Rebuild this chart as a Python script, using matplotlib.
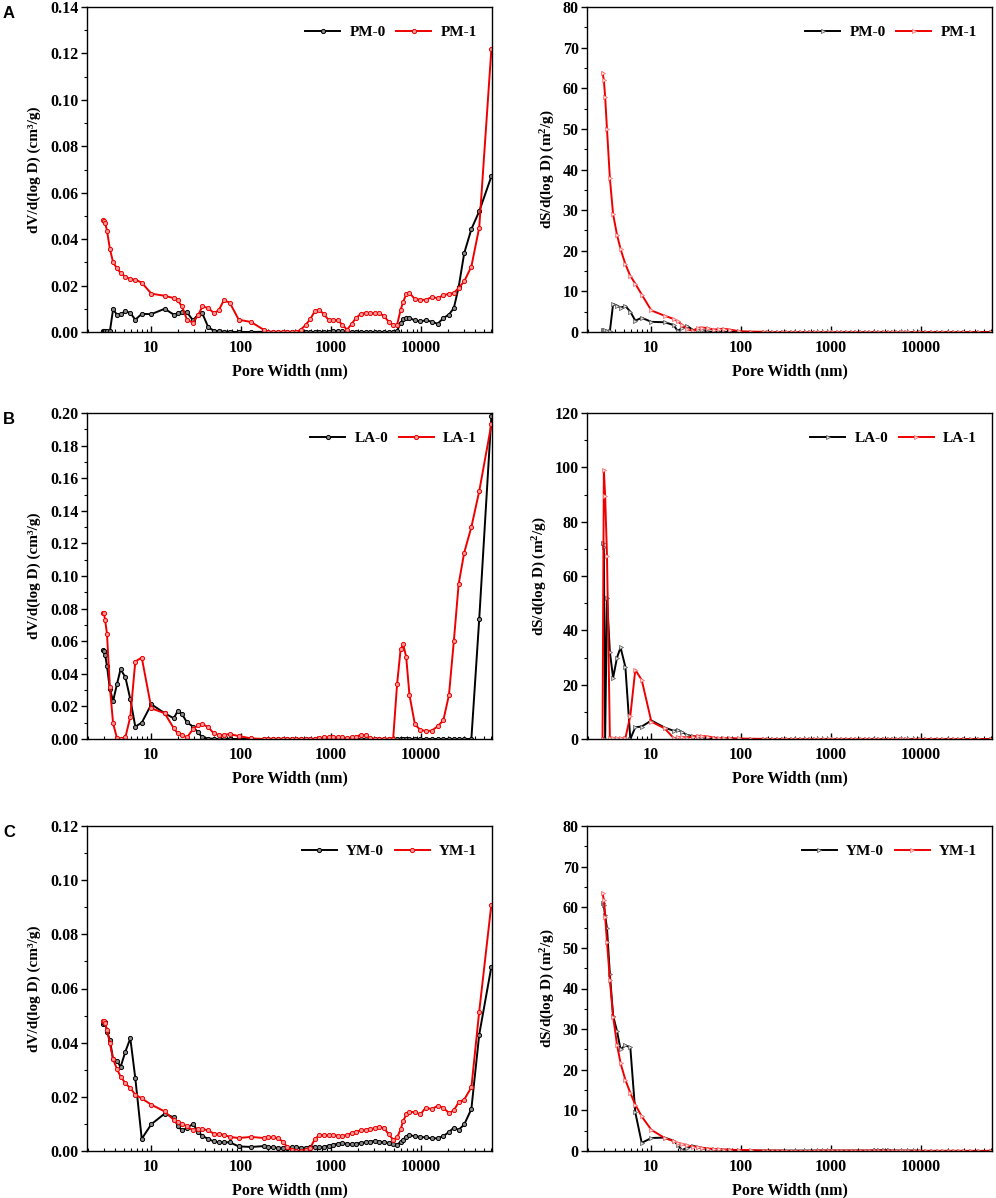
import numpy as np
import matplotlib
matplotlib.use('Agg')
import matplotlib.pyplot as plt
from matplotlib.ticker import FixedLocator, LogLocator, MultipleLocator, NullFormatter, FuncFormatter, FormatStrFormatter

plt.rcParams['font.family'] = ['Liberation Serif', 'DejaVu Serif']
plt.rcParams['font.weight'] = 'bold'
plt.rcParams['axes.labelweight'] = 'bold'
plt.rcParams['mathtext.fontset'] = 'custom'
plt.rcParams['mathtext.rm'] = 'Liberation Serif:bold'
plt.rcParams['mathtext.it'] = 'Liberation Serif:bold'
plt.rcParams['mathtext.bf'] = 'Liberation Serif:bold'

# pore widths (nm): gas adsorption part + mercury intrusion part
gas_nm = [2.9, 3.0, 3.1, 3.25, 3.5, 3.8, 4.2, 4.6, 5.2, 5.9, 6.7, 7.9, 10.1, 14.2,
          17.9, 19.8, 22.1, 25.1, 29.3, 33.3, 37.2, 43.3, 49.7, 56.5, 64.2, 74.8, 94.2, 129]
hg_nm = [178, 200, 225, 255, 290, 325, 365, 410, 460, 520, 585, 660, 740, 830, 935,
         1050, 1180, 1330, 1500, 1690, 1900, 2140, 2410, 2710, 3050, 3430, 3860, 4340,
         4880, 5400, 5900, 6300, 6800, 7400, 8500, 9800, 11200, 13000, 15200, 17600,
         20300, 23000, 26000, 30000, 36000, 44000, 60000]
pore_nm = gas_nm + hg_nm

# ---- A: PM ----
pm0_dv = [0.0005, 0.0005, 0.0005, 0.0005, 0.0003, 0.0098, 0.0074, 0.0077, 0.0089, 0.0082,
          0.0053, 0.0078, 0.0077, 0.0100, 0.0075, 0.0080, 0.0088, 0.0085, 0.0050, 0.0075,
          0.0080, 0.0020, 0.0006, 0.0003, 0.0002, 0.0001, 0.0, 0.0,
          0.0001, 0.0, 0.0, 0.0, 0.0, 0.0, 0.0, 0.0, 0.0, 0.0,
          0.0, 0.0, 0.0, 0.0, 0.0, 0.0003, 0.0005, 0.0004, 0.0002, 0.0,
          0.0, 0.0, 0.0, 0.0, 0.0, 0.0, 0.0, 0.0, 0.0, 0.0005,
          0.0040, 0.0055, 0.0060, 0.0060, 0.0050, 0.0046, 0.0050, 0.0045, 0.0035, 0.0060,
          0.0075, 0.0103, 0.0193, 0.0340, 0.0443, 0.0520, 0.0670]
pm1_dv = [0.0483, 0.0480, 0.0470, 0.0437, 0.0358, 0.0300, 0.0274, 0.0255, 0.0238, 0.0228,
          0.0225, 0.0213, 0.0165, 0.0156, 0.0146, 0.0136, 0.0110, 0.0053, 0.0040, 0.0072,
          0.0110, 0.0103, 0.0082, 0.0093, 0.0136, 0.0127, 0.0053, 0.0043,
          0.0010, 0.0, 0.0, 0.0, 0.0, 0.0, 0.0, 0.0, 0.0010, 0.0030,
          0.0055, 0.0090, 0.0096, 0.0076, 0.0053, 0.0053, 0.0050, 0.0032, 0.0010, 0.0035,
          0.0062, 0.0078, 0.0082, 0.0080, 0.0082, 0.0082, 0.0068, 0.0045, 0.0030, 0.0032,
          0.0095, 0.0130, 0.0162, 0.0168, 0.0142, 0.0139, 0.0138, 0.0150, 0.0146, 0.0158,
          0.0165, 0.0168, 0.0190, 0.0218, 0.0282, 0.0450, 0.1217]
pm0_ds = [0.4, 0.5, 0.4, 0.3, 0.2, 6.9, 6.5, 6.0, 6.4, 5.0,
          2.8, 3.5, 2.5, 2.4, 1.7, 0.2, 1.0, 1.5, 0.5, 0.6,
          0.5, 0.1, 0.05, 0.0, 0.0, 0.0, 0.0, 0.0,
          0.0, 0.0, 0.0, 0.0, 0.0, 0.0, 0.0, 0.0, 0.0, 0.0,
          0.0, 0.0, 0.0, 0.0, 0.0, 0.0, 0.0, 0.0, 0.0, 0.0,
          0.0, 0.0, 0.0, 0.0, 0.0, 0.0, 0.0, 0.0, 0.0, 0.0,
          0.0, 0.0, 0.0, 0.0, 0.0, 0.0, 0.0, 0.0, 0.0, 0.0,
          0.0, 0.0, 0.0, 0.0, 0.0, 0.0, 0.0]
pm1_ds = [63.8, 62.0, 57.9, 49.9, 37.8, 29.0, 23.9, 20.4, 16.7, 13.8,
          11.9, 9.2, 5.3, 4.0, 3.2, 2.6, 1.8, 0.7, 0.3, 1.0,
          1.1, 0.9, 0.6, 0.7, 0.8, 0.6, 0.2, 0.1,
          0.05, 0.0, 0.0, 0.0, 0.0, 0.0, 0.0, 0.0, 0.0, 0.0,
          0.0, 0.0, 0.0, 0.0, 0.0, 0.0, 0.0, 0.0, 0.0, 0.0,
          0.0, 0.0, 0.0, 0.0, 0.0, 0.0, 0.0, 0.0, 0.0, 0.0,
          0.0, 0.0, 0.0, 0.0, 0.0, 0.0, 0.0, 0.0, 0.0, 0.0,
          0.0, 0.0, 0.0, 0.0, 0.0, 0.0, 0.0]

# ---- B: LA ----
la0_dv = [0.0547, 0.0540, 0.0516, 0.0448, 0.0305, 0.0233, 0.0338, 0.0428, 0.0379, 0.0244,
          0.0076, 0.0100, 0.0213, 0.0158, 0.0127, 0.0172, 0.0153, 0.0102, 0.0076, 0.0040,
          0.0010, 0.0003, 0.0001, 0.0, 0.0, 0.0, 0.0, 0.0,
          0.0, 0.0, 0.0, 0.0, 0.0, 0.0, 0.0, 0.0, 0.0, 0.0,
          0.0, 0.0, 0.0, 0.0, 0.0, 0.0, 0.0, 0.0, 0.0, 0.0,
          0.0, 0.0, 0.0, 0.0, 0.0, 0.0, 0.0, 0.0, 0.0, 0.0,
          0.0, 0.0, 0.0, 0.0, 0.0, 0.0, 0.0, 0.0, 0.0, 0.0,
          0.0, 0.0, 0.0, 0.0, 0.0, 0.0735, 0.1980]
la1_dv = [0.0776, 0.0772, 0.0730, 0.0645, 0.0317, 0.0096, 0.0004, 0.0, 0.0010, 0.0137,
          0.0475, 0.0500, 0.0188, 0.0158, 0.0066, 0.0035, 0.0025, 0.0010, 0.0060, 0.0086,
          0.0092, 0.0072, 0.0035, 0.0025, 0.0025, 0.0030, 0.0018, 0.0004,
          0.0, 0.0, 0.0, 0.0, 0.0, 0.0, 0.0, 0.0, 0.0, 0.0,
          0.0, 0.0, 0.0005, 0.0010, 0.0010, 0.0010, 0.0010, 0.0010, 0.0005, 0.0010,
          0.0015, 0.0025, 0.0022, 0.0005, 0.0, 0.0, 0.0, 0.0, 0.0003, 0.0340,
          0.0550, 0.0580, 0.0505, 0.0270, 0.0090, 0.0055, 0.0050, 0.0050, 0.0078, 0.0115,
          0.0270, 0.0600, 0.0950, 0.1144, 0.1300, 0.1520, 0.1930]
la0_ds = [72.0, 70.5, 0.0, 52.0, 32.0, 22.5, 30.0, 33.7, 26.5, 0.0,
          4.3, 4.6, 6.8, 4.2, 3.0, 3.4, 2.6, 1.5, 1.0, 0.5,
          0.2, 0.1, 0.0, 0.0, 0.0, 0.0, 0.0, 0.0,
          0.0, 0.0, 0.0, 0.0, 0.0, 0.0, 0.0, 0.0, 0.0, 0.0,
          0.0, 0.0, 0.0, 0.0, 0.0, 0.0, 0.0, 0.0, 0.0, 0.0,
          0.0, 0.0, 0.0, 0.0, 0.0, 0.0, 0.0, 0.0, 0.0, 0.0,
          0.0, 0.0, 0.0, 0.0, 0.0, 0.0, 0.0, 0.0, 0.0, 0.0,
          0.0, 0.0, 0.0, 0.0, 0.0, 0.0, 0.0]
la1_ds = [0.0, 99.0, 89.5, 67.5, 0.3, 0.2, 0.2, 0.2, 0.3, 8.5,
          25.5, 21.7, 6.4, 3.9, 0.3, 0.6, 0.8, 0.5, 0.9, 1.2,
          1.1, 0.9, 0.5, 0.4, 0.3, 0.3, 0.2, 0.1,
          0.05, 0.0, 0.0, 0.0, 0.0, 0.0, 0.0, 0.0, 0.0, 0.0,
          0.0, 0.0, 0.0, 0.0, 0.0, 0.0, 0.0, 0.0, 0.0, 0.0,
          0.0, 0.0, 0.0, 0.0, 0.0, 0.0, 0.0, 0.0, 0.0, 0.0,
          0.0, 0.0, 0.0, 0.0, 0.0, 0.0, 0.0, 0.0, 0.0, 0.0,
          0.0, 0.0, 0.0, 0.0, 0.0, 0.0, 0.0]

# ---- C: YM ----
ym0_dv = [0.0469, 0.0474, 0.0477, 0.0440, 0.0410, 0.0338, 0.0334, 0.0310, 0.0367, 0.0416,
          0.0269, 0.0045, 0.0099, 0.0138, 0.0124, 0.0093, 0.0076, 0.0085, 0.0100, 0.0072,
          0.0056, 0.0044, 0.0036, 0.0032, 0.0032, 0.0032, 0.0017, 0.0015,
          0.0018, 0.0015, 0.0013, 0.0012, 0.0012, 0.0010, 0.0013, 0.0013, 0.0012, 0.0012,
          0.0015, 0.0016, 0.0013, 0.0015, 0.0020, 0.0023, 0.0027, 0.0028, 0.0027, 0.0026,
          0.0027, 0.0030, 0.0032, 0.0035, 0.0037, 0.0035, 0.0032, 0.0030, 0.0025, 0.0022,
          0.0035, 0.0042, 0.0052, 0.0058, 0.0055, 0.0052, 0.0050, 0.0047, 0.0047, 0.0055,
          0.0070, 0.0086, 0.0078, 0.0098, 0.0155, 0.0430, 0.0680]
ym1_dv = [0.0481, 0.0480, 0.0472, 0.0447, 0.0398, 0.0339, 0.0302, 0.0275, 0.0250, 0.0232,
          0.0208, 0.0194, 0.0171, 0.0146, 0.0115, 0.0107, 0.0101, 0.0091, 0.0076, 0.0081,
          0.0081, 0.0076, 0.0064, 0.0063, 0.0060, 0.0052, 0.0048, 0.0052,
          0.0048, 0.0050, 0.0050, 0.0048, 0.0035, 0.0015, 0.0005, 0.0, 0.0, 0.0003,
          0.0010, 0.0045, 0.0058, 0.0058, 0.0058, 0.0058, 0.0057, 0.0055, 0.0060, 0.0066,
          0.0072, 0.0076, 0.0079, 0.0080, 0.0085, 0.0088, 0.0085, 0.0062, 0.0042, 0.0050,
          0.0080, 0.0110, 0.0135, 0.0145, 0.0143, 0.0135, 0.0160, 0.0155, 0.0166, 0.0160,
          0.0140, 0.0150, 0.0180, 0.0190, 0.0235, 0.0515, 0.0910]
ym0_ds = [61.0, 60.5, 58.0, 54.8, 43.5, 33.3, 29.5, 25.0, 26.0, 25.5,
          9.5, 2.0, 3.2, 3.3, 2.5, 1.5, 0.2, 0.8, 1.3, 0.9,
          0.7, 0.5, 0.4, 0.3, 0.3, 0.3, 0.1, 0.1,
          0.1, 0.1, 0.1, 0.1, 0.1, 0.1, 0.1, 0.1, 0.1, 0.1,
          0.1, 0.1, 0.1, 0.1, 0.1, 0.1, 0.1, 0.1, 0.1, 0.1,
          0.1, 0.1, 0.1, 0.1, 0.2, 0.2, 0.2, 0.2, 0.1, 0.1,
          0.1, 0.1, 0.1, 0.1, 0.1, 0.0, 0.0, 0.0, 0.0, 0.0,
          0.0, 0.0, 0.0, 0.0, 0.0, 0.0, 0.0]
ym1_ds = [63.4, 61.8, 57.7, 51.5, 42.1, 33.1, 26.1, 21.6, 17.5, 14.3,
          11.4, 8.5, 5.2, 3.2, 2.4, 2.0, 1.7, 1.4, 1.1, 0.9,
          0.8, 0.6, 0.5, 0.4, 0.35, 0.3, 0.25, 0.2,
          0.1, 0.1, 0.1, 0.1, 0.05, 0.0, 0.0, 0.0, 0.0, 0.0,
          0.0, 0.05, 0.1, 0.1, 0.1, 0.1, 0.1, 0.1, 0.1, 0.1,
          0.1, 0.1, 0.1, 0.1, 0.1, 0.1, 0.1, 0.1, 0.05, 0.05,
          0.05, 0.05, 0.05, 0.05, 0.05, 0.05, 0.05, 0.05, 0.05, 0.05,
          0.05, 0.05, 0.05, 0.05, 0.05, 0.05, 0.05]

rows = [
    ('A', ['PM-0', 'PM-1'], pm0_dv, pm1_dv, pm0_ds, pm1_ds, 0.14, 80),
    ('B', ['LA-0', 'LA-1'], la0_dv, la1_dv, la0_ds, la1_ds, 0.20, 120),
    ('C', ['YM-0', 'YM-1'], ym0_dv, ym1_dv, ym0_ds, ym1_ds, 0.12, 80),
]

W, H = 996, 1198
fig = plt.figure(figsize=(W / 100, H / 100), dpi=100)

# pixel boxes of the axes: (top, bottom)
row_px = [(7, 332), (413, 739), (826, 1151)]
col_px = [(87, 492), (587, 992)]


def style_axes(ax, ymax, ystep, fmt):
    ax.set_xscale('log')
    ax.set_xlim(1.95, 61000)
    ax.set_ylim(0, ymax)
    ax.xaxis.set_major_locator(FixedLocator([10, 100, 1000, 10000]))
    ax.xaxis.set_major_formatter(FuncFormatter(lambda v, p: '%d' % v))
    ax.xaxis.set_minor_locator(LogLocator(base=10, subs=np.arange(2, 10)))
    ax.xaxis.set_minor_formatter(NullFormatter())
    ax.yaxis.set_major_locator(MultipleLocator(ystep))
    ax.yaxis.set_minor_locator(MultipleLocator(ystep / 2))
    ax.yaxis.set_major_formatter(FormatStrFormatter(fmt))
    ax.tick_params(axis='x', which='major', direction='in', length=4, width=1,
                   labelsize=11.5, pad=6)
    ax.tick_params(axis='x', which='minor', direction='in', length=2.5, width=0.8)
    ax.tick_params(axis='y', which='major', direction='out', length=4, width=1,
                   labelsize=11.5, pad=2)
    ax.tick_params(axis='y', which='minor', direction='out', length=2.5, width=0.8)
    for s in ax.spines.values():
        s.set_linewidth(1.0)
    ax.set_xlabel('Pore Width (nm)', fontsize=11.5, labelpad=5)


for r, (letter, names, dv0, dv1, ds0, ds1, vmax, smax) in enumerate(rows):
    top, bot = row_px[r]
    axes = []
    for c in range(2):
        left, right = col_px[c]
        ax = fig.add_axes([left / W, 1 - bot / H, (right - left) / W, (bot - top) / H])
        axes.append(ax)
    axv, axs = axes

    axv.plot(pore_nm, dv0, color='black', lw=1.4, marker='o', ms=3.0,
             mfc='#888888', mec='black', mew=0.7, label=names[0])
    axv.plot(pore_nm, dv1, color='#ee0000', lw=1.4, marker='o', ms=3.0,
             mfc='#ff9999', mec='#ee0000', mew=0.7, label=names[1])
    style_axes(axv, vmax, 0.02, '%.2f')
    axv.set_ylabel('dV/d(log D) (cm³/g)', fontsize=11, labelpad=7)

    axs.plot(pore_nm, ds0, color='black', lw=1.4, marker='>', ms=3.0,
             mfc='#dddddd', mec='#555555', mew=0.5, label=names[0])
    axs.plot(pore_nm, ds1, color='#ee0000', lw=1.4, marker='>', ms=3.0,
             mfc='#ffdddd', mec='#ff6666', mew=0.5, label=names[1])
    style_axes(axs, smax, 20 if smax > 100 else 10, '%d')
    axs.set_ylabel('dS/d(log D) (m$^2$/g)', fontsize=11, labelpad=4)

    for ax in axes:
        ax.legend(loc='upper right', ncol=2, frameon=False, fontsize=11,
                  handlelength=2.3, handletextpad=0.6, columnspacing=0.7,
                  bbox_to_anchor=(0.997, 0.985), numpoints=1)

    fig.text(3 / W, 1 - (top - 1) / H, letter, ha='left', va='top',
             family='Liberation Sans', weight='bold', fontsize=12)

fig.savefig('out.png', dpi=100)
